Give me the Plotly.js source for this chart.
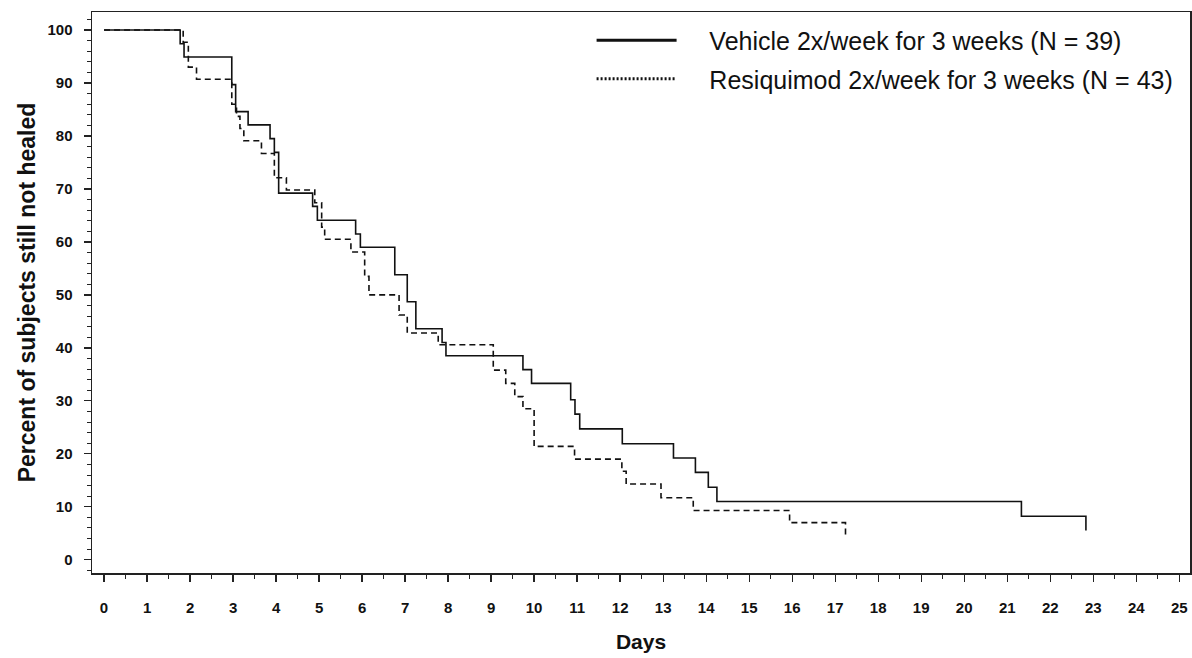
<!DOCTYPE html>
<html>
<head>
<meta charset="utf-8">
<script src="https://cdn.plot.ly/plotly-3.0.1.min.js"></script>
<style>html,body{margin:0;padding:0;background:#fff;}#chart{width:1192px;height:658px;}</style>
</head>
<body>
<div id="chart"></div>
<script>
// Kaplan-Meier style step data (days, percent still not healed)
const vehicleDays = [0, 1.77, 1.86, 2.97, 3.06, 3.35, 3.86, 3.96, 4.06, 4.85, 4.96, 5.85, 5.96, 6.76, 7.05, 7.25, 7.86, 7.95, 9.74, 9.94, 10.85, 10.95, 11.06, 12.05, 13.24, 13.75, 14.05, 14.25, 21.33, 22.83];
const vehiclePct  = [100, 97.4, 94.9, 89.7, 84.6, 82.1, 79.5, 76.9, 69.2, 66.7, 64.1, 61.5, 59.0, 53.8, 48.7, 43.6, 41.0, 38.5, 35.9, 33.3, 30.2, 27.5, 24.7, 21.9, 19.2, 16.5, 13.7, 11.0, 8.2, 5.5];

const resiDays = [0, 1.84, 1.96, 2.15, 2.97, 3.08, 3.16, 3.25, 3.66, 3.96, 4.24, 4.90, 5.06, 5.13, 5.74, 6.06, 6.16, 6.86, 7.05, 7.77, 9.05, 9.34, 9.55, 9.74, 10.0, 10.94, 12.04, 12.14, 12.95, 13.70, 15.94, 17.24];
const resiPct  = [100, 97.7, 93.0, 90.7, 86.0, 83.7, 81.4, 79.1, 76.7, 72.1, 69.8, 67.4, 62.8, 60.5, 58.1, 53.5, 50.0, 46.2, 42.8, 40.6, 35.8, 33.3, 30.8, 28.5, 21.4, 19.0, 16.7, 14.3, 11.7, 9.3, 7.0, 4.6];

const seriesNames = ["Vehicle 2x/week for 3 weeks (N = 39)", "Resiquimod 2x/week for 3 weeks (N = 43)"];
const xTickVals = [0,1,2,3,4,5,6,7,8,9,10,11,12,13,14,15,16,17,18,19,20,21,22,23,24,25];
const yTickVals = [0,10,20,30,40,50,60,70,80,90,100];

const ink = "#111111";
const pad = "\u00a0\u00a0\u00a0\u00a0";
const traces = [
  {x: vehicleDays, y: vehiclePct, mode: "lines", line: {shape: "hv", color: ink, width: 1.6}, showlegend: false, hoverinfo: "skip"},
  {x: resiDays, y: resiPct, mode: "lines", line: {shape: "hv", color: ink, width: 1.6, dash: "6px,4px"}, showlegend: false, hoverinfo: "skip"},
  // legend entries
  {x: [null], y: [null], mode: "lines", name: pad + seriesNames[0], legendgroup: "a", line: {color: ink, width: 3}},
  {x: [null], y: [null], mode: "lines", name: pad + seriesNames[1], legendgroup: "b", line: {color: ink, width: 3, dash: "2px,2px"}}
];

const tickFont = {family: "Liberation Sans, Arial, sans-serif", size: 15, color: ink, weight: "bold"};
const layout = {
  width: 1192, height: 658,
  margin: {l: 92, r: 2, t: 12, b: 85},
  paper_bgcolor: "#fff", plot_bgcolor: "#fff",
  font: {family: "Liberation Sans, Arial, sans-serif", color: ink},
  xaxis: {
    range: [-0.28, 25.25], tickvals: xTickVals, ticktext: xTickVals.map(String),
    showgrid: false, zeroline: false, showline: true, mirror: true, linecolor: "#222", linewidth: 1.5,
    ticks: "outside", ticklen: 7, tickwidth: 1.3, tickcolor: "#222",
    minor: {dtick: 0.5, tick0: 0, ticks: "outside", ticklen: 4, tickwidth: 1, tickcolor: "#222", showgrid: false},
    ticklabelstandoff: 13,
    tickfont: tickFont,
    title: {text: "<b>Days</b>", font: {size: 21, color: ink}, standoff: 20},
    automargin: false
  },
  yaxis: {
    range: [-2.5, 103.4], tickvals: yTickVals, ticktext: yTickVals.map(String),
    showgrid: false, zeroline: false, showline: true, mirror: true, linecolor: "#222", linewidth: 1.5,
    ticks: "outside", ticklen: 7, tickwidth: 1.3, tickcolor: "#222",
    minor: {dtick: 2, tick0: 0, ticks: "outside", ticklen: 4, tickwidth: 1, tickcolor: "#222", showgrid: false},
    ticklabelstandoff: 8,
    tickfont: tickFont,
    title: {text: "<b>Percent of subjects still not healed</b>", font: {size: 23, color: ink}, standoff: 5},
    automargin: false
  },
  legend: {
    x: 0.455, y: 0.99, xanchor: "left", yanchor: "top",
    bgcolor: "rgba(0,0,0,0)", borderwidth: 0,
    font: {size: 25, color: ink, family: "Liberation Sans, Arial, sans-serif"},
    itemwidth: 80, tracegroupgap: 3
  },
  showlegend: true
};

Plotly.newPlot("chart", traces, layout, {displayModeBar: false, staticPlot: true});
</script>
</body>
</html>
